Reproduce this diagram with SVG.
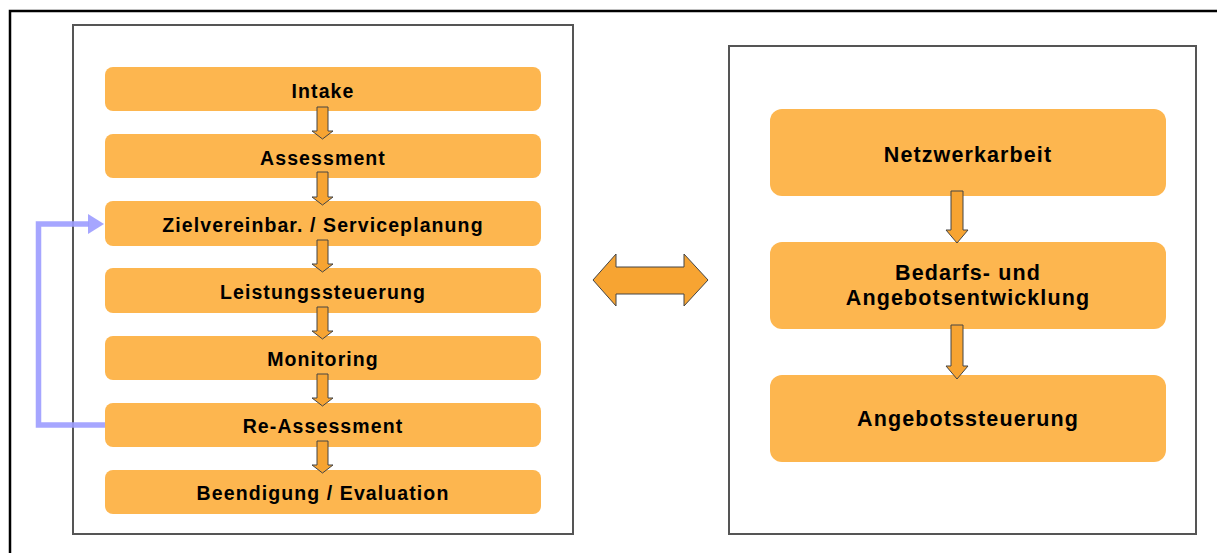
<svg xmlns="http://www.w3.org/2000/svg" width="1217" height="553" viewBox="0 0 1217 553">
<style>
.frame{fill:none;stroke:#000;stroke-width:2.5}
.box{fill:#fff;stroke:#555;stroke-width:2}
.nl{fill:#FDB64F}
.t{font-family:"Liberation Sans",Arial,sans-serif;font-weight:bold;fill:#000;text-anchor:middle}
.ts{font-size:19.5px;letter-spacing:1.1px}
.tb{font-size:21.5px;letter-spacing:1.1px}
.arr{fill:#F7A432;stroke:#444;stroke-width:1}
.fb{fill:none;stroke:#9C9CFF;stroke-width:5.5;stroke-opacity:0.9}
</style>
<rect class="frame" x="10" y="11" width="1230" height="560"/>
<rect class="box" x="73" y="25" width="500" height="509"/>
<rect class="box" x="729" y="46" width="467" height="488"/>
<g id="n-intake"><rect class="nl" x="105" y="67" width="436" height="44" rx="8"/><text class="t ts" x="323" y="98">Intake</text></g>
<g id="n-assessment"><rect class="nl" x="105" y="134" width="436" height="44" rx="8"/><text class="t ts" x="323" y="165">Assessment</text></g>
<g id="n-ziel"><rect class="nl" x="105" y="201" width="436" height="45" rx="8"/><text class="t ts" x="323" y="232">Zielvereinbar. / Serviceplanung</text></g>
<g id="n-leistung"><rect class="nl" x="105" y="268" width="436" height="45" rx="8"/><text class="t ts" x="323" y="299">Leistungssteuerung</text></g>
<g id="n-monitoring"><rect class="nl" x="105" y="336" width="436" height="44" rx="8"/><text class="t ts" x="323" y="366">Monitoring</text></g>
<g id="n-reassessment"><rect class="nl" x="105" y="403" width="436" height="44" rx="8"/><text class="t ts" x="323" y="433">Re-Assessment</text></g>
<g id="n-beendigung"><rect class="nl" x="105" y="470" width="436" height="44" rx="8"/><text class="t ts" x="323" y="500">Beendigung / Evaluation</text></g>
<g id="n-netzwerk"><rect class="nl" x="770" y="109" width="396" height="87" rx="12"/><text class="t tb" x="968" y="162">Netzwerkarbeit</text></g>
<g id="n-bedarf"><rect class="nl" x="770" y="242" width="396" height="87" rx="12"/><text class="t tb" x="968" y="280">Bedarfs- und</text><text class="t tb" x="968" y="305">Angebotsentwicklung</text></g>
<g id="n-angebot"><rect class="nl" x="770" y="375" width="396" height="87" rx="12"/><text class="t tb" x="968" y="426">Angebotssteuerung</text></g>
<g id="connectors">
<path class="arr" d="M317 107 H328 V131 H333 L322.5 139 L312 131 H317 Z"/>
<path class="arr" d="M317 172 H328 V197 H333 L322.5 205 L312 197 H317 Z"/>
<path class="arr" d="M317 240 H328 V264 H333 L322.5 272 L312 264 H317 Z"/>
<path class="arr" d="M317 307 H328 V331 H333 L322.5 339 L312 331 H317 Z"/>
<path class="arr" d="M317 374 H328 V398 H333 L322.5 406 L312 398 H317 Z"/>
<path class="arr" d="M317 441 H328 V465 H333 L322.5 473 L312 465 H317 Z"/>
<path class="arr" d="M951 191 H963 V230 H968 L957 243 L946 230 H951 Z"/>
<path class="arr" d="M951 325 H963 V366 H968 L957 379 L946 366 H951 Z"/>
<path class="arr" d="M593 280 L616 254 V267 H684 V254 L708 280 L684 306 V294 H616 V306 Z"/>
<path class="fb" d="M105 425 H38.5 V224 H89"/>
<path d="M88 214 L104 224 L88 234 Z" fill="#9C9CFF" fill-opacity="0.9"/>
</g>
</svg>
